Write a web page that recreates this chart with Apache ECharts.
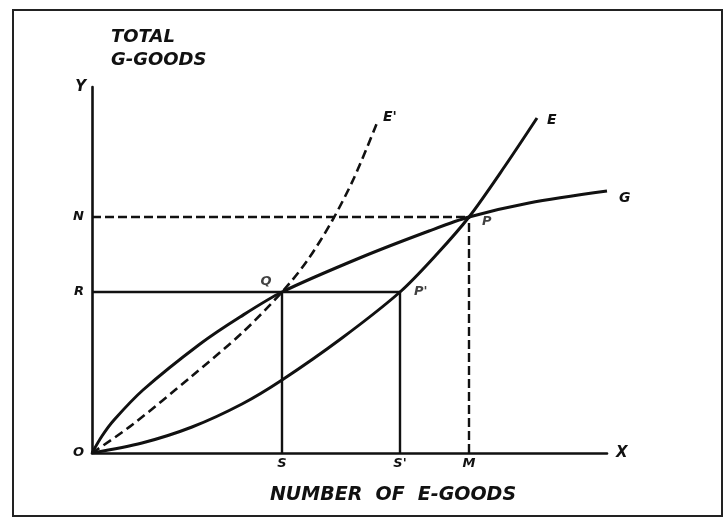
<!DOCTYPE html>
<html>
<head>
<meta charset="utf-8">
<script src="https://cdn.jsdelivr.net/npm/echarts@6/dist/echarts.min.js"></script>
<style>
html, body { margin: 0; padding: 0; background: #fff; }
#main { width: 724px; height: 519px; }
</style>
</head>
<body>
<div id="main"></div>
<script>
// curves in axis units (x = number of E-goods, y = total G-goods)
var curveG = [[0, 0], [10, 17], [22, 33], [51, 63], [108, 109], [148, 136], [190, 161],
    [270, 196], [337, 222], [377, 236], [437, 250], [515, 262]];
var curveE = [[0, 0], [50, 10], [100, 26], [150, 49], [190, 73], [250, 115], [308, 161],
    [345, 199], [377, 236], [413, 287], [445, 335]];
var curveE1 = [[0, 0], [40, 28], [100, 77], [150, 120], [190, 161], [215, 192],
    [240, 232], [262, 275], [285, 330]];

// named points where the curves meet
var pointNames = ['Q', 'P', "P'"];
var pointX = [190, 377, 308];
var pointY = [161, 236, 161];

// letters on the axes
var xTickNames = ['S', "S'", 'M'];   // under Q, P', P
var yTickNames = ['O', 'R', 'N'];    // origin, level of Q, level of P

var ink = '#111';
var font = 'DejaVu Sans';

var Q = [pointX[0], pointY[0]];
var P = [pointX[1], pointY[1]];
var P1 = [pointX[2], pointY[2]];

var xTickVals = [Q[0], P1[0], P[0]];
var yTickVals = [0, Q[1], P[1]];

var labelStyle = {
    'Q': {position: 'top', offset: [-16, 1]},
    'P': {position: 'right', offset: [8, 5]},
    "P'": {position: 'right', offset: [9, 0]}
};

var pointData = pointNames.map(function (n, i) {
    return {
        name: n,
        value: [pointX[i], pointY[i]],
        label: labelStyle[n]
    };
});

function curve(name, data, dashed, endOffset) {
    return {
        name: name,
        type: 'line',
        data: data,
        smooth: 0.3,
        symbol: 'none',
        lineStyle: {color: ink, width: dashed ? 2.6 : 3, type: dashed ? [9, 5] : 'solid'},
        endLabel: {
            show: true,
            formatter: name,
            color: ink,
            fontFamily: font,
            fontWeight: 'bold',
            fontStyle: 'italic',
            fontSize: 14,
            offset: endOffset
        },
        z: 3
    };
}

function guide(data, dashed) {
    return {
        type: 'line',
        data: data,
        symbol: 'none',
        lineStyle: {color: ink, width: 2.4, type: dashed ? [9, 4] : 'solid'},
        z: 2
    };
}

var myChart = echarts.init(document.getElementById('main'));
myChart.setOption({
    animation: false,
    backgroundColor: '#fff',
    title: [
        {
            text: 'TOTAL\nG-GOODS',
            left: 106,
            top: 21,
            textStyle: {
                color: ink, fontFamily: font, fontWeight: 'bold', fontStyle: 'italic',
                fontSize: 18, lineHeight: 23
            }
        },
        {
            text: 'NUMBER  OF  E-GOODS',
            left: 388,
            top: 481,
            textAlign: 'center',
            textStyle: {
                color: ink, fontFamily: font, fontWeight: 'bold', fontStyle: 'italic',
                fontSize: 19
            }
        }
    ],
    graphic: [{
        type: 'rect',
        shape: {x: 13, y: 10, width: 709, height: 506},
        style: {fill: 'none', stroke: '#222', lineWidth: 2},
        silent: true
    }],
    grid: {left: 92, right: 117, top: 87, bottom: 66},
    xAxis: {
        type: 'value',
        min: 0,
        max: 515,
        name: 'X',
        nameLocation: 'end',
        nameGap: 9,
        nameTextStyle: {color: ink, fontFamily: font, fontWeight: 'bold', fontStyle: 'italic', fontSize: 15},
        axisLine: {lineStyle: {color: ink, width: 2.6}},
        axisTick: {show: false},
        splitLine: {show: false},
        axisLabel: {
            customValues: xTickVals,
            margin: 4,
            color: ink, fontFamily: font, fontWeight: 'bold', fontStyle: 'italic', fontSize: 13,
            formatter: function (v) { return xTickNames[xTickVals.indexOf(v)] || ''; }
        }
    },
    yAxis: {
        type: 'value',
        min: 0,
        max: 366,
        name: 'Y',
        nameLocation: 'end',
        nameGap: 0,
        nameTextStyle: {
            color: ink, fontFamily: font, fontWeight: 'bold', fontStyle: 'italic', fontSize: 15,
            align: 'right', verticalAlign: 'middle', padding: [0, 6, 0, 0]
        },
        axisLine: {lineStyle: {color: ink, width: 2.6}},
        axisTick: {show: false},
        splitLine: {show: false},
        axisLabel: {
            customValues: yTickVals,
            margin: 8,
            color: ink, fontFamily: font, fontWeight: 'bold', fontStyle: 'italic', fontSize: 13,
            formatter: function (v) { return yTickNames[yTickVals.indexOf(v)] || ''; }
        }
    },
    series: [
        curve('G', curveG, false, [4, 7]),
        curve('E', curveE, false, [2, 2]),
        curve("E'", curveE1, true, [-2, -6]),
        // R-line from the Y axis through Q to P'
        guide([[0, Q[1]], [P1[0], P1[1]]], false),
        // QS and P'S'
        guide([[Q[0], 0], Q], false),
        guide([[P1[0], 0], P1], false),
        // N-line and PM, dashed
        guide([[0, P[1]], P], true),
        guide([[P[0], 0], P], true),
        {
            type: 'scatter',
            data: pointData,
            symbolSize: 0,
            label: {
                show: true,
                formatter: '{b}',
                color: ink, fontFamily: font, fontWeight: 'bold', fontStyle: 'italic', fontSize: 13
            },
            z: 4
        }
    ]
});
</script>
</body>
</html>
